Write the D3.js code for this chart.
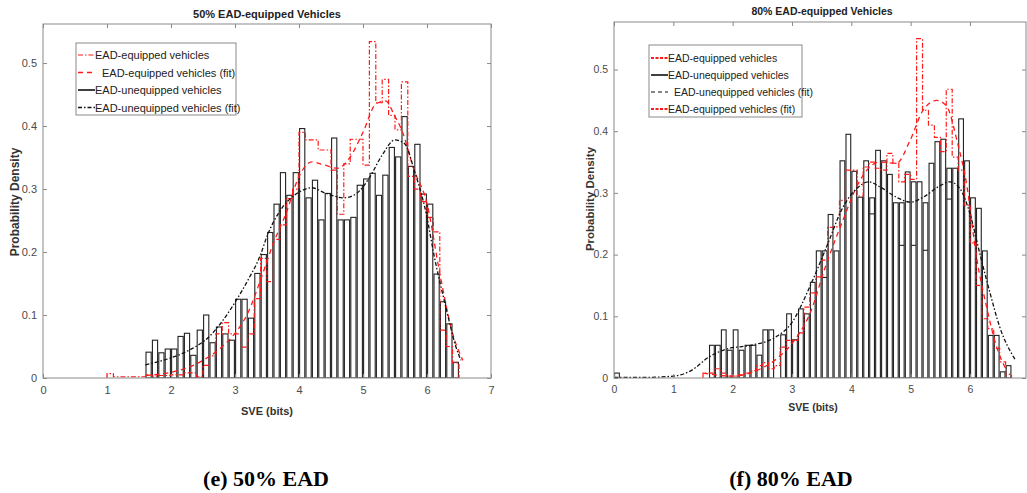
<!DOCTYPE html>
<html>
<head>
<meta charset="utf-8">
<script src="https://cdn.jsdelivr.net/npm/d3@7/dist/d3.min.js"></script>
<style>
  body { margin: 0; background: #fff; }
  svg text { font-family: "Liberation Sans", Arial, sans-serif; }
</style>
</head>
<body>
<svg id="chart" width="1027" height="493"></svg>
<script>
// bin width of both histograms
const binW = 0.1;

// ---- (e) 50% EAD ----
const leftBlackStart = 1.6;
const leftBlack = [0.041, 0.06, 0.04, 0.046, 0.046, 0.066, 0.071, 0.036, 0.076, 0.10,
  0.056, 0.081, 0.07, 0.06, 0.125, 0.125, 0.095, 0.166, 0.196, 0.231,
  0.276, 0.326, 0.29, 0.326, 0.396, 0.286, 0.314, 0.251, 0.293, 0.381,
  0.251, 0.251, 0.255, 0.306, 0.316, 0.325, 0.29, 0.322, 0.366, 0.351,
  0.415, 0.336, 0.371, 0.292, 0.276, 0.165, 0.121, 0.086, 0.025];
const leftRedStart = 1.0;
const leftRed = [0.007, 0.002, 0.002, 0.002, 0.002, 0.002, 0.005, 0.003, 0.004, 0.004,
  0.005, 0.005, 0.008, 0.008, 0.002, 0.02, 0.035, 0.07, 0.088, 0.07,
  0.07, 0.049, 0.07, 0.126, 0.19, 0.153, 0.22, 0.243, 0.285, 0.3,
  0.39, 0.378, 0.378, 0.362, 0.362, 0.33, 0.26, 0.34, 0.379, 0.379,
  0.338, 0.534, 0.437, 0.474, 0.417, 0.394, 0.47, 0.32, 0.3, 0.28,
  0.255, 0.232, 0.076, 0.05, 0.024];
const leftBlackFitX = [1.6, 2.0, 2.3, 2.6, 2.8, 3.0, 3.2, 3.4, 3.5, 3.7, 3.9, 4.0, 4.2, 4.4, 4.7, 4.9, 5.1, 5.3, 5.5, 5.65, 5.8, 6.0, 6.1, 6.3, 6.45, 6.53];
const leftBlackFitY = [0.021, 0.032, 0.045, 0.066, 0.09, 0.12, 0.155, 0.196, 0.225, 0.265, 0.288, 0.295, 0.302, 0.294, 0.286, 0.293, 0.318, 0.354, 0.378, 0.372, 0.33, 0.255, 0.2, 0.11, 0.05, 0.028];
const leftRedFitX = [1.6, 2.0, 2.3, 2.5, 2.8, 3.0, 3.2, 3.4, 3.6, 3.8, 4.0, 4.2, 4.4, 4.6, 4.8, 5.0, 5.2, 5.35, 5.5, 5.6, 5.8, 6.0, 6.2, 6.4, 6.56];
const leftRedFitY = [0.004, 0.009, 0.018, 0.028, 0.05, 0.071, 0.103, 0.156, 0.214, 0.262, 0.32, 0.343, 0.338, 0.333, 0.351, 0.39, 0.435, 0.44, 0.415, 0.395, 0.33, 0.277, 0.166, 0.071, 0.028];

// ---- (f) 80% EAD ----
const rightBlackStart = 0.0;
const rightBlack = [0.008, 0, 0, 0, 0, 0, 0, 0, 0, 0, 0, 0, 0, 0, 0, 0,
  0.053, 0.053, 0.078, 0.045, 0.078, 0.045, 0.053, 0.053, 0.037, 0.078,
  0.078, 0, 0.07, 0.104, 0.062, 0.112, 0.104, 0.155, 0.206, 0.206,
  0.265, 0.206, 0.352, 0.395, 0.335, 0.293, 0.352, 0.292, 0.369, 0.352,
  0.33, 0.284, 0.284, 0.334, 0.318, 0.318, 0.284, 0.348, 0.383, 0.387,
  0.34, 0.34, 0.42, 0.352, 0.292, 0.275, 0.206, 0.069, 0.069, 0.01, 0.02];
// second (lower) black outline seen inside some bins: [bin start, value]
const rightBlackInner = [[3.5, 0.163], [4.3, 0.266], [4.8, 0.215], [5.0, 0.215], [5.2, 0.207], [5.6, 0.29]];
const rightRedStart = 1.5;
const rightRed = [0.008, 0.008, 0.015, 0.008, 0.003, 0.003, 0.005, 0.008, 0.012, 0.02,
  0.025, 0.015, 0.02, 0.05, 0.061, 0.061, 0.073, 0.115, 0.138, 0.164,
  0.191, 0.244, 0.245, 0.288, 0.337, 0.337, 0.295, 0.342, 0.35, 0.34,
  0.337, 0.364, 0.348, 0.318, 0.33, 0.322, 0.55, 0.434, 0.41, 0.39,
  0.367, 0.468, 0.358, 0.337, 0.28, 0.219, 0.15, 0.096, 0.08, 0.048,
  0.026, 0.006];
const rightBlackFitX = [0, 0.5, 1.0, 1.3, 1.6, 1.9, 2.3, 2.7, 3.0, 3.3, 3.58, 3.86, 4.09, 4.29, 4.48, 4.76, 5.0, 5.21, 5.5, 5.66, 5.83, 6.0, 6.17, 6.34, 6.5, 6.76];
const rightBlackFitY = [0.001, 0.001, 0.003, 0.012, 0.034, 0.047, 0.053, 0.065, 0.09, 0.148, 0.212, 0.277, 0.307, 0.318, 0.31, 0.293, 0.285, 0.293, 0.312, 0.318, 0.307, 0.266, 0.2, 0.137, 0.083, 0.03];
const rightRedFitX = [1.5, 2.0, 2.4, 2.74, 3.0, 3.3, 3.58, 3.86, 4.09, 4.31, 4.48, 4.76, 4.99, 5.21, 5.44, 5.61, 5.78, 5.95, 6.11, 6.28, 6.45, 6.62];
const rightRedFitY = [0.008, 0.003, 0.012, 0.031, 0.056, 0.104, 0.185, 0.256, 0.31, 0.342, 0.35, 0.348, 0.385, 0.434, 0.45, 0.44, 0.385, 0.31, 0.196, 0.115, 0.05, 0.012];

const yTicks = [0, 0.1, 0.2, 0.3, 0.4, 0.5];

const svg = d3.select("#chart");

const RED = "#ff1a1a";
const styles = {
  redHist: { stroke: RED, width: 1.2, dash: "5,2,1.5,2" },
  redHistThick: { stroke: RED, width: 2, dash: "3,1.5" },
  redFit: { stroke: RED, width: 1.3, dash: "5,4" },
  blackHist: { stroke: "#111", width: 1.6, dash: null },
  blackFit: { stroke: "#111", width: 1.3, dash: "4,2,1.5,2" },
  blackFitLegend: { stroke: "#111", width: 1.2, dash: "4,3" }
};

function panel(cfg) {
  const g = svg.append("g");
  const x = d3.scaleLinear().domain([0, cfg.xMax]).range([cfg.left, cfg.right]);
  const y = d3.scaleLinear().domain([0, cfg.yMax]).range([cfg.bottom, cfg.top]);
  const id = "clip" + cfg.name;

  svg.append("clipPath").attr("id", id).append("rect")
    .attr("x", cfg.left).attr("y", cfg.top)
    .attr("width", cfg.right - cfg.left).attr("height", cfg.bottom - cfg.top);

  const plot = g.append("g").attr("clip-path", "url(#" + id + ")");

  // black histogram bars
  const bars = cfg.black.map((v, i) => ({ b: cfg.blackStart + i * binW, v: v })).filter(d => d.v > 0);
  plot.selectAll("rect.bar").data(bars).enter().append("rect")
    .attr("class", "bar")
    .attr("x", d => x(d.b) + 0.6)
    .attr("width", d => x(d.b + binW) - x(d.b) - 1.2)
    .attr("y", d => y(d.v))
    .attr("height", d => y(0) - y(d.v))
    .attr("fill", "none")
    .attr("stroke", "#222")
    .attr("stroke-width", 1.1);

  if (cfg.inner) {
    plot.selectAll("line.inner").data(cfg.inner).enter().append("line")
      .attr("x1", d => x(d[0]) + 0.6).attr("x2", d => x(d[0] + binW) - 0.6)
      .attr("y1", d => y(d[1])).attr("y2", d => y(d[1]))
      .attr("stroke", "#222").attr("stroke-width", 1.1);
  }

  // red histogram as stairs
  const pts = [[cfg.redStart, 0]];
  cfg.red.forEach((v, i) => pts.push([cfg.redStart + i * binW, v]));
  pts.push([cfg.redStart + cfg.red.length * binW, 0]);
  const stair = d3.line().x(d => x(d[0])).y(d => y(d[1])).curve(d3.curveStepAfter);
  plot.append("path").attr("d", stair(pts))
    .attr("fill", "none").attr("stroke", RED).attr("stroke-width", 1.2)
    .attr("stroke-dasharray", "5,2,1.5,2");

  const smooth = d3.line().x(d => x(d[0])).y(d => y(d[1])).curve(d3.curveMonotoneX);
  plot.append("path").attr("d", smooth(cfg.redFitX.map((v, i) => [v, cfg.redFitY[i]])))
    .attr("fill", "none").attr("stroke", RED).attr("stroke-width", 1.3)
    .attr("stroke-dasharray", "5,4");
  plot.append("path").attr("d", smooth(cfg.blackFitX.map((v, i) => [v, cfg.blackFitY[i]])))
    .attr("fill", "none").attr("stroke", "#111").attr("stroke-width", 1.3)
    .attr("stroke-dasharray", "4,2,1.5,2");

  // axes box and inward ticks
  g.append("rect").attr("x", cfg.left).attr("y", cfg.top)
    .attr("width", cfg.right - cfg.left).attr("height", cfg.bottom - cfg.top)
    .attr("fill", "none").attr("stroke", "#8a8a8a").attr("stroke-width", 1);

  const xb = g.append("g").attr("transform", "translate(0," + cfg.bottom + ")")
    .call(d3.axisBottom(x).tickValues(cfg.xTicks).tickSize(-4).tickPadding(8).tickFormat(d3.format("d")));
  const xt = g.append("g").attr("transform", "translate(0," + cfg.top + ")")
    .call(d3.axisTop(x).tickValues(cfg.xTicks).tickSize(-4).tickFormat(""));
  const yl = g.append("g").attr("transform", "translate(" + cfg.left + ",0)")
    .call(d3.axisLeft(y).tickValues(yTicks).tickSize(-4).tickPadding(6).tickFormat(d => d === 0 ? "0" : d3.format(".1f")(d)));
  const yr = g.append("g").attr("transform", "translate(" + cfg.right + ",0)")
    .call(d3.axisRight(y).tickValues(yTicks).tickSize(-4).tickFormat(""));
  [xb, xt, yl, yr].forEach(a => {
    a.select(".domain").remove();
    a.selectAll(".tick line").attr("stroke", "#8a8a8a");
    a.selectAll(".tick text").attr("fill", "#4a4a4a").style("font-size", cfg.tickFont + "px");
  });

  // titles and labels
  g.append("text").attr("x", cfg.titleX).attr("y", cfg.titleY).attr("text-anchor", "middle")
    .style("font-size", cfg.titleFont + "px").style("font-weight", "bold").attr("fill", "#222")
    .text(cfg.title);
  g.append("text").attr("x", cfg.xLabelX).attr("y", cfg.xLabelY).attr("text-anchor", "middle")
    .style("font-size", cfg.titleFont + "px").style("font-weight", "bold").attr("fill", "#333")
    .text("SVE (bits)");
  g.append("text").attr("transform", "translate(" + cfg.yLabelX + "," + cfg.yLabelY + ") rotate(-90)")
    .attr("text-anchor", "middle")
    .style("font-size", (cfg.titleFont + 1) + "px").style("font-weight", "bold").attr("fill", "#333")
    .text("Probability Density");

  // legend
  const L = cfg.legend;
  g.append("rect").attr("x", L.x).attr("y", L.y).attr("width", L.w).attr("height", L.h)
    .attr("fill", "#fff").attr("stroke", "#8a8a8a").attr("stroke-width", 1);
  L.items.forEach((it, i) => {
    const cy = L.y + L.rowTop + i * L.rowH;
    const st = styles[it.style];
    g.append("line").attr("x1", L.x + 2).attr("x2", L.x + 19).attr("y1", cy).attr("y2", cy)
      .attr("stroke", st.stroke).attr("stroke-width", st.width)
      .attr("stroke-dasharray", st.dash);
    g.append("text").attr("x", L.x + 19 + it.indent).attr("y", cy + 4)
      .style("font-size", L.font + "px").attr("fill", "#222").text(it.label);
  });

  // caption
  svg.append("text").attr("x", cfg.capX).attr("y", 486).attr("text-anchor", "middle")
    .style("font-family", "'Liberation Serif', 'Times New Roman', serif")
    .style("font-size", "22px").style("font-weight", "bold").attr("fill", "#000")
    .text(cfg.caption);
}

panel({
  name: "L", left: 43, right: 491, top: 24, bottom: 378, xMax: 7, yMax: 0.562,
  xTicks: [0, 1, 2, 3, 4, 5, 6, 7], tickFont: 11,
  black: leftBlack, blackStart: leftBlackStart,
  red: leftRed, redStart: leftRedStart,
  blackFitX: leftBlackFitX, blackFitY: leftBlackFitY,
  redFitX: leftRedFitX, redFitY: leftRedFitY,
  title: "50% EAD-equipped Vehicles", titleX: 267, titleY: 18, titleFont: 11,
  xLabelX: 267, xLabelY: 415, yLabelX: 19, yLabelY: 202,
  legend: { x: 76, y: 43, w: 160, h: 72, rowTop: 12, rowH: 17.5, font: 11,
    items: [
      { label: "EAD-equipped vehicles", style: "redHist", indent: 0 },
      { label: "EAD-equipped vehicles (fit)", style: "redFit", indent: 7 },
      { label: "EAD-unequipped vehicles", style: "blackHist", indent: 0 },
      { label: "EAD-unequipped vehicles (fit)", style: "blackFit", indent: 0 }
    ] },
  caption: "(e) 50% EAD", capX: 266
});

panel({
  name: "R", left: 614, right: 1026, top: 22, bottom: 378, xMax: 6.944, yMax: 0.577,
  xTicks: [0, 1, 2, 3, 4, 5, 6], tickFont: 10.5,
  black: rightBlack, blackStart: rightBlackStart, inner: rightBlackInner,
  red: rightRed, redStart: rightRedStart,
  blackFitX: rightBlackFitX, blackFitY: rightBlackFitY,
  redFitX: rightRedFitX, redFitY: rightRedFitY,
  title: "80% EAD-equipped Vehicles", titleX: 822, titleY: 15, titleFont: 10.5,
  xLabelX: 813, xLabelY: 411, yLabelX: 594, yLabelY: 199,
  legend: { x: 649, y: 45, w: 153, h: 72, rowTop: 13, rowH: 17, font: 10.5,
    items: [
      { label: "EAD-equipped vehicles", style: "redHistThick", indent: 0 },
      { label: "EAD-unequipped vehicles", style: "blackHist", indent: 0 },
      { label: "EAD-unequipped vehicles (fit)", style: "blackFitLegend", indent: 6 },
      { label: "EAD-equipped vehicles (fit)", style: "redHistThick", indent: 0 }
    ] },
  caption: "(f) 80% EAD", capX: 791
});
</script>
</body>
</html>
